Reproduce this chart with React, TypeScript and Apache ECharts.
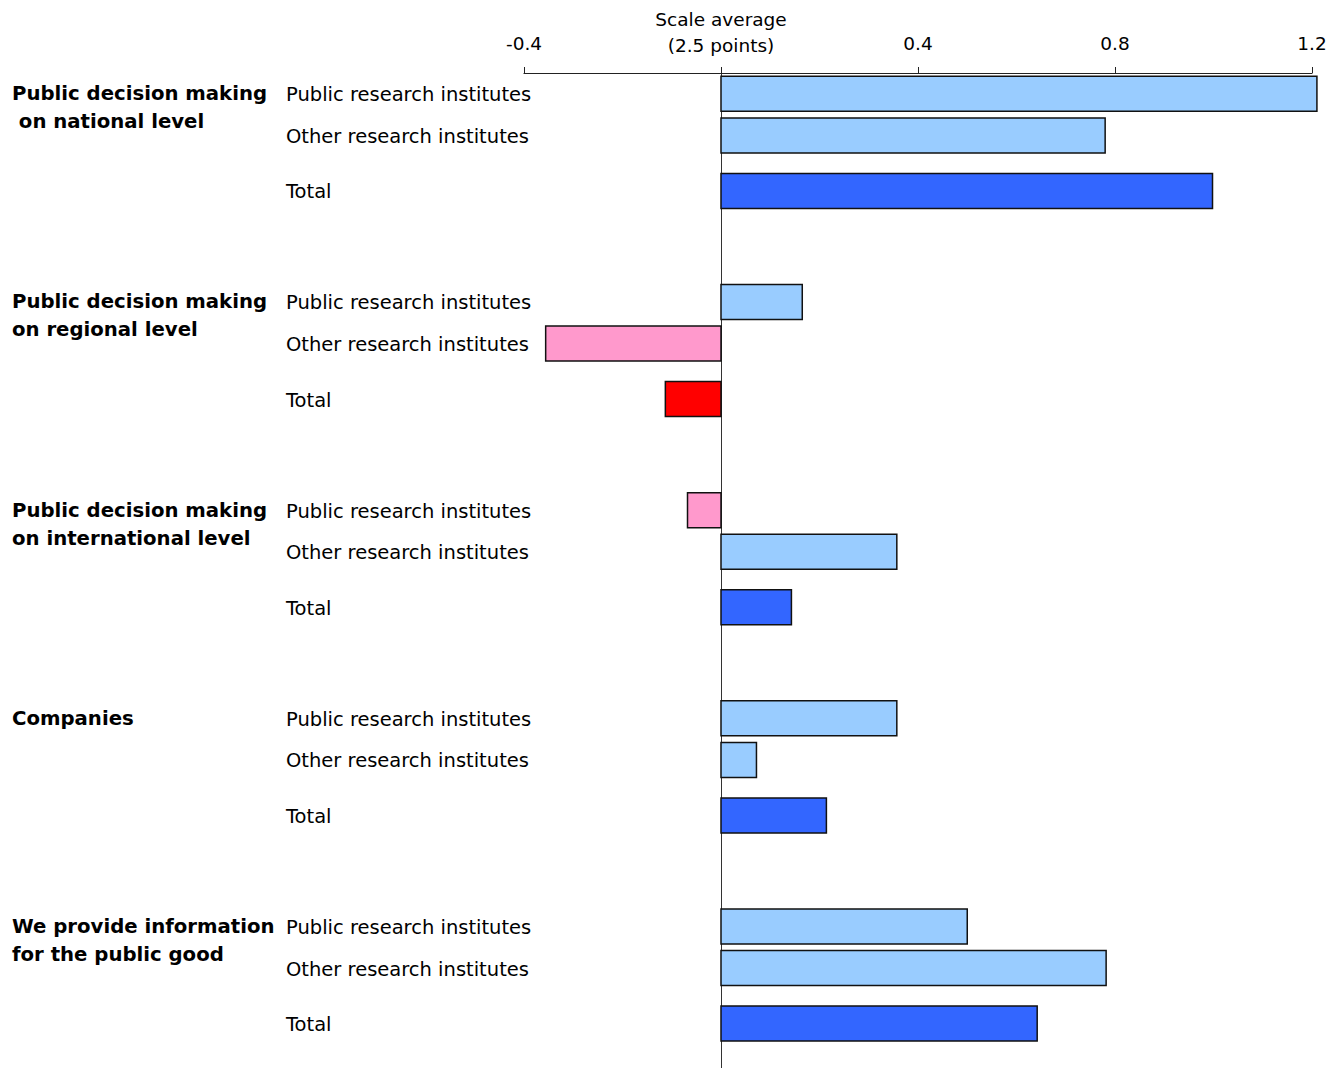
import React, { useEffect, useRef } from "react";
import * as echarts from "echarts";

const groupLabels = [
  "Public decision making\n on national level",
  "Public decision making\non regional level",
  "Public decision making\non international level",
  "Companies",
  "We provide information\nfor the public good",
];
const rowLabels = ["Public research institutes", "Other research institutes", "Total"];
const publicValues = [1.21, 0.165, -0.068, 0.357, 0.5];
const otherValues = [0.78, -0.356, 0.357, 0.072, 0.782];
const totalValues = [0.998, -0.113, 0.143, 0.214, 0.642];
const xTicks = [-0.4, 0, 0.4, 0.8, 1.2];
const zeroLabel = "Scale average\n(2.5 points)";

const REG_FONT = "'DejaVu Sans', sans-serif";
const BOLD_FONT = "'DejaVu Sans', sans-serif";

export default function App() {
  const ref = useRef<HTMLDivElement>(null);
  useEffect(() => {
    if (!ref.current) return;
    const chart = echarts.init(ref.current, null, { renderer: "svg" });
    const slotOffsets = [0, 3, 7];
    const groupStride = 15;
    const series = [publicValues, otherValues, totalValues];
    const data: number[][] = [];
    groupLabels.forEach((_, g) => {
      series.forEach((vals, k) => {
        data.push([vals[g], g * groupStride + slotOffsets[k], k, g]);
      });
    });
    const colorFor = (v: number, k: number) => {
      if (k === 2) return v >= 0 ? "#3366FF" : "#FF0000";
      return v >= 0 ? "#99CCFF" : "#FF99CC";
    };
    chart.setOption({
      animation: false,
      grid: { left: 524, right: 32, top: 73, bottom: 0, containLabel: false },
      xAxis: {
        type: "value",
        position: "top",
        min: xTicks[0],
        max: xTicks[xTicks.length - 1],
        interval: 0.4,
        axisLine: { show: true, onZero: false, lineStyle: { color: "#222", width: 1.2 } },
        axisTick: { show: true, length: 6, lineStyle: { color: "#222" } },
        splitLine: { show: false },
        axisLabel: {
          show: true,
          margin: 15,
          color: "#000",
          fontSize: 18.5,
          fontFamily: REG_FONT,
          lineHeight: 26,
          formatter: (v: number) =>
            Math.abs(v) < 1e-9 ? zeroLabel : "{n|" + v.toFixed(1) + "}",
          rich: {
            n: {
              fontSize: 18.5,
              fontFamily: REG_FONT,
              color: "#000",
              padding: [0, 0, 4, 0],
            },
          },
        },
      },
      yAxis: {
        type: "value",
        inverse: true,
        min: -1.5,
        max: 70.2,
        axisLine: { show: true, onZero: true, lineStyle: { color: "#333", width: 1 } },
        axisTick: { show: false },
        axisLabel: { show: false },
        splitLine: { show: false },
      },
      series: [
        {
          type: "custom",
          data,
          clip: false,
          renderItem: (params: any, api: any) => {
            const v = api.value(0);
            const y = api.value(1);
            const k = api.value(2);
            const g = api.value(3);
            const p0 = api.coord([0, y]);
            const p1 = api.coord([v, y]);
            const h = 35;
            const children: any[] = [
              {
                type: "rect",
                shape: {
                  x: Math.min(p0[0], p1[0]),
                  y: p0[1] - h / 2,
                  width: Math.abs(p1[0] - p0[0]),
                  height: h,
                },
                style: { fill: colorFor(v, k), stroke: "#111", lineWidth: 1.5 },
              },
              {
                type: "text",
                style: {
                  text: rowLabels[k],
                  x: 286,
                  y: p0[1] + 1,
                  fill: "#000",
                  fontSize: 19.5,
                  fontFamily: REG_FONT,
                  verticalAlign: "middle",
                  align: "left",
                },
              },
            ];
            if (k === 0) {
              children.push({
                type: "text",
                style: {
                  text: groupLabels[g],
                  x: 12,
                  y: p0[1] - 14,
                  fill: "#000",
                  fontSize: 19.7,
                  fontWeight: "bold",
                  fontFamily: BOLD_FONT,
                  lineHeight: 28,
                  verticalAlign: "top",
                  align: "left",
                },
              });
            }
            return { type: "group", children };
          },
        },
      ],
    });
    return () => chart.dispose();
  }, []);
  return (
    <div
      ref={ref}
      style={{ position: "absolute", left: 0, top: 0, width: 1344, height: 1068 }}
    />
  );
}
